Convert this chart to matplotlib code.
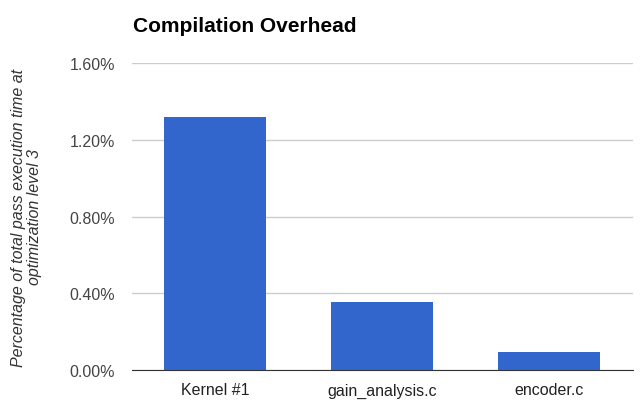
import matplotlib.pyplot as plt
import numpy as np

categories = ['Kernel #1', 'gain_analysis.c', 'encoder.c']
overhead = [1.32, 0.356, 0.096]
yticks = [0.0, 0.4, 0.8, 1.2, 1.6]

plt.rcParams['font.family'] = ['Liberation Sans', 'DejaVu Sans']

fig = plt.figure(figsize=(6.4, 4.14), dpi=100)
ax = fig.add_axes([0.206, 0.104, 0.783, 0.741])

x = np.arange(len(categories))
ax.bar(x, overhead, width=0.61, color='#3366cc', zorder=2)

ax.set_xlim(-0.5, len(categories) - 0.5)
ax.set_ylim(0, 1.6)
ax.set_yticks(yticks)
ax.set_yticklabels(['%.2f%%' % v for v in yticks], color='#444444', fontsize=11.5)
ax.set_xticks(x)
ax.set_xticklabels(categories, color='#222222', fontsize=11.5)
ax.tick_params(axis='y', length=0, pad=12)
ax.tick_params(axis='x', length=0, pad=9)

ax.grid(axis='y', color='#cccccc', linewidth=1, zorder=0)
for s in ['top', 'right', 'left']:
    ax.spines[s].set_visible(False)
ax.spines['bottom'].set_color('#333333')
ax.spines['bottom'].set_zorder(3)

ax.set_ylabel('Percentage of total pass execution time at\noptimization level 3',
              style='italic', color='#333333', fontsize=11.5, labelpad=20,
              linespacing=1.05)

fig.text(0.208, 0.935, 'Compilation Overhead', fontsize=15, fontweight='bold',
         color='#000000', va='center', ha='left')

fig.savefig('out.png', dpi=100)
